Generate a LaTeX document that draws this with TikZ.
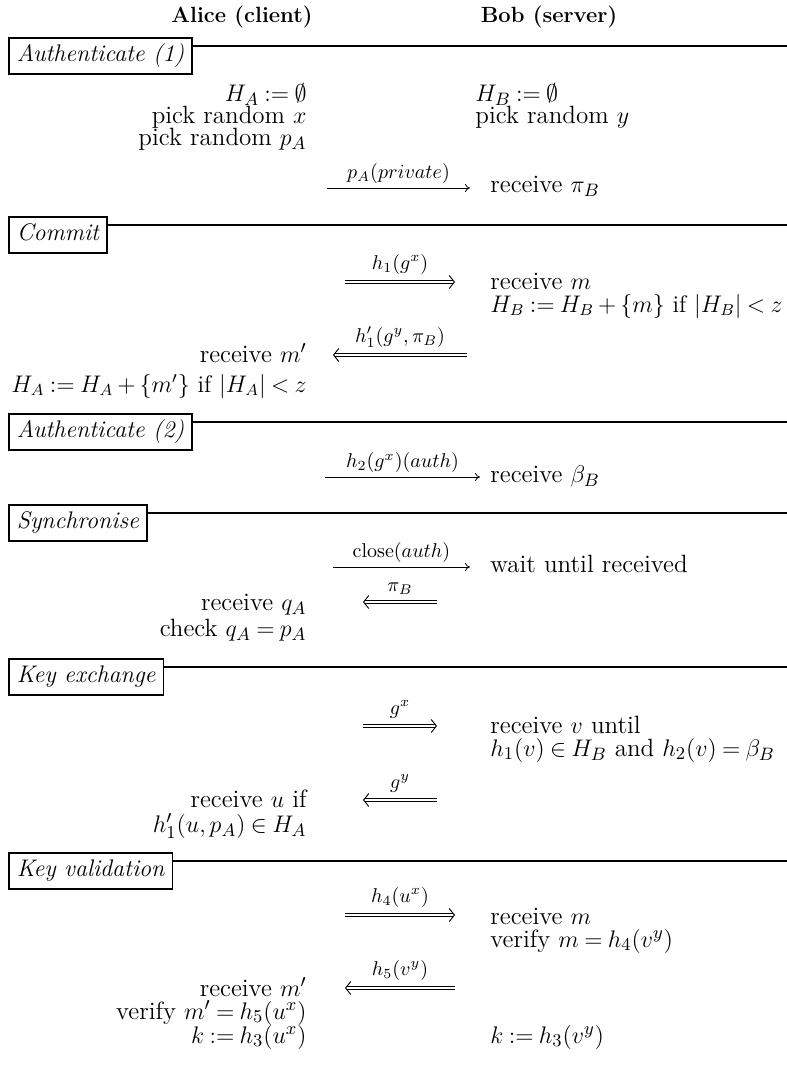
\documentclass[tikz,border=0pt]{standalone}
\usetikzlibrary{arrows.meta}
\begin{document}
\begin{tikzpicture}[x=0.5pt,y=-0.5pt,
  txt/.style={inner sep=0pt, font=\fontsize{12.5}{15}\selectfont, text height=8pt, text depth=2pt},
  lft/.style={txt, anchor=east},
  rgt/.style={txt, anchor=west},
  hdr/.style={inner sep=0pt, font=\fontsize{11}{13}\selectfont\bfseries},
  sect/.style={draw, line width=0.8pt, anchor=north west, inner xsep=4pt, inner ysep=3pt, font=\fontsize{12}{14}\selectfont\itshape, text height=9pt, text depth=3pt},
  secrule/.style={line width=0.8pt},
  msg/.style={line width=0.4pt, -{To[length=2.5pt,width=4pt]}},
  dmsg/.style={draw=white, line width=0.9pt,
    -{Straight Barb[length=2.6pt,width=6.5pt,line width=0.45pt,color=black]},
    preaction={draw=black, line width=0.45pt, arrows=-, transform canvas={yshift=0.85pt}, shorten >=1pt},
    postaction={draw=black, line width=0.45pt, arrows=-, transform canvas={yshift=-0.85pt}, shorten >=1pt}},
  lbl/.style={font=\fontsize{10}{12}\selectfont, inner sep=2pt, above},
  dlbl/.style={lbl, yshift=1.5pt}
]
\thickmuskip=4mu plus 2mu
\medmuskip=3mu plus 1mu minus 1mu
\useasboundingbox (0,0) rectangle (787,1066);
\coordinate (rend) at (787,0);

% headers
\node[hdr] (alice) at (242,17) {Alice (client)};
\node[hdr] (bob) at (549,17) {Bob (server)};

% ---------- Authenticate (1)
\node[sect] (s1) at (8,37) {Authenticate (1)};
\draw[secrule] ([yshift=-4.5pt]s1.north east) -- ([yshift=-4.5pt]s1.north east -| rend);
\node[lft] (l11) at (307,95) {$H_A := \emptyset$};
\node[lft] (l12) at (307,117) {pick random $x$};
\node[lft] (l13) at (307,139) {pick random $p_A$};
\node[rgt] (r11) at (475,95) {$H_B := \emptyset$};
\node[rgt] (r12) at (475,117) {pick random $y$};
\coordinate (a1s) at (327,188);
\coordinate (a1e) at (470,188);
\draw[msg] (a1s) -- node[lbl] (m1) {$p_A(private)$} (a1e);
\node[rgt] (r13) at (490,186) {receive $\pi_B$};

% ---------- Commit
\node[sect] (s2) at (8,216) {Commit};
\draw[secrule] ([yshift=-4.5pt]s2.north east) -- ([yshift=-4.5pt]s2.north east -| rend);
\coordinate (a2s) at (345,282);
\coordinate (a2e) at (455,282);
\draw[dmsg] (a2s) -- node[dlbl] (m2) {$h_1(g^x)$} (a2e);
\node[rgt] (r21) at (490,283) {receive $m$};
\node[rgt,font=\fontsize{12}{14}\selectfont] (r22) at (490,306) {$H_B := H_B + \{m\}$ if $|H_B| < z$};
\coordinate (a3s) at (467,355);
\coordinate (a3e) at (333,355);
\draw[dmsg] (a3s) -- node[dlbl] (m3) {$h_1'(g^y,\pi_B)$} (a3e);
\node[lft] (l21) at (307,356) {receive $m'$};
\node[lft,font=\fontsize{12}{14}\selectfont] (l22) at (307,386) {$H_A := H_A + \{m'\}$ if $|H_A| < z$};

% ---------- Authenticate (2)
\node[sect] (s3) at (8,413) {Authenticate (2)};
\draw[secrule] ([yshift=-4.5pt]s3.north east) -- ([yshift=-4.5pt]s3.north east -| rend);
\coordinate (a4s) at (325,477);
\coordinate (a4e) at (480,477);
\draw[msg] (a4s) -- node[lbl] (m4) {$h_2(g^x)(auth)$} (a4e);
\node[rgt] (r31) at (490,476) {receive $\beta_B$};

% ---------- Synchronise
\node[sect] (s4) at (8,504) {Synchronise};
\draw[secrule] ([yshift=-4.5pt]s4.north east) -- ([yshift=-4.5pt]s4.north east -| rend);
\coordinate (a5s) at (333,567);
\coordinate (a5e) at (470,567);
\draw[msg] (a5s) -- node[lbl] (m5) {$\mathrm{close}(auth)$} (a5e);
\node[rgt] (r41) at (490,566) {wait until received};
\coordinate (a6s) at (437,602);
\coordinate (a6e) at (363,602);
\draw[dmsg] (a6s) -- node[dlbl] (m6) {$\pi_B$} (a6e);
\node[lft] (l41) at (307,604) {receive $q_A$};
\node[lft] (l42) at (307,630) {check $q_A = p_A$};

% ---------- Key exchange
\node[sect] (s5) at (8,658) {Key exchange};
\draw[secrule] ([yshift=-4.5pt]s5.north east) -- ([yshift=-4.5pt]s5.north east -| rend);
\coordinate (a7s) at (363,726);
\coordinate (a7e) at (437,726);
\draw[dmsg] (a7s) -- node[dlbl] (m7) {$g^x$} (a7e);
\node[rgt] (r51) at (490,727) {receive $v$ until};
\node[rgt] (r52) at (490,750) {$h_1(v) \in H_B$ and $h_2(v) = \beta_B$};
\coordinate (a8s) at (437,800);
\coordinate (a8e) at (363,800);
\draw[dmsg] (a8s) -- node[dlbl] (m8) {$g^y$} (a8e);
\node[lft] (l51) at (307,801) {receive $u$ if};
\node[lft] (l52) at (307,826) {$h_1'(u,p_A) \in H_A$};

% ---------- Key validation
\node[sect] (s6) at (8,852) {Key validation};
\draw[secrule] ([yshift=-4.5pt]s6.north east) -- ([yshift=-4.5pt]s6.north east -| rend);
\coordinate (a9s) at (345,915);
\coordinate (a9e) at (455,915);
\draw[dmsg] (a9s) -- node[dlbl] (m9) {$h_4(u^x)$} (a9e);
\node[rgt] (r61) at (490,918) {receive $m$};
\node[rgt] (r62) at (490,941) {verify $m = h_4(v^y)$};
\coordinate (a10s) at (455,988);
\coordinate (a10e) at (345,988);
\draw[dmsg] (a10s) -- node[dlbl] (m10) {$h_5(v^y)$} (a10e);
\node[lft] (l61) at (307,990) {receive $m'$};
\node[lft] (l62) at (307,1013) {verify $m' = h_5(u^x)$};
\node[lft] (l63) at (307,1037) {$k := h_3(u^x)$};
\node[rgt] (r63) at (490,1037) {$k := h_3(v^y)$};
\end{tikzpicture}
\end{document}
